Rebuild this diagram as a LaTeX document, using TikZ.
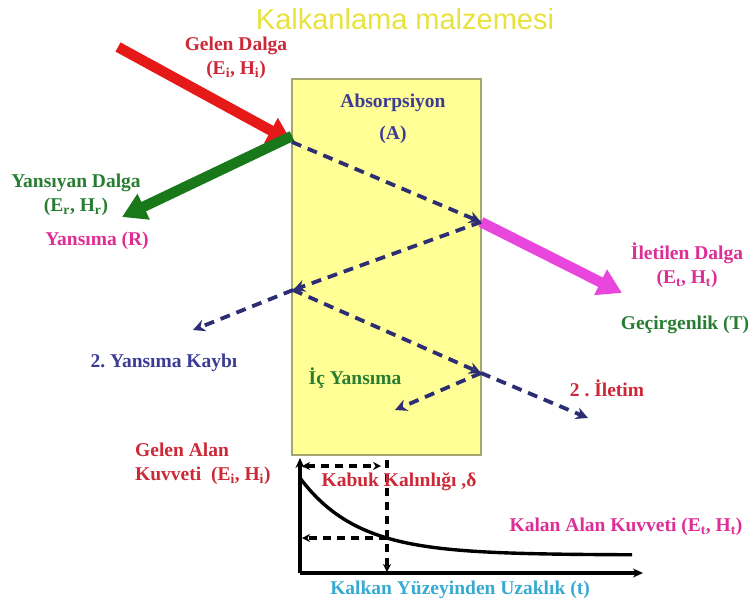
\documentclass[tikz,border=0pt]{standalone}
\usepackage{fontspec}
\setmainfont{Liberation Serif}
\newfontfamily\titlefont{Liberation Sans}
\usetikzlibrary{arrows.meta}
\definecolor{shieldfill}{RGB}{255,255,150}
\definecolor{shieldedge}{RGB}{165,165,110}
\definecolor{titleyellow}{RGB}{232,226,60}
\definecolor{incred}{RGB}{230,25,25}
\definecolor{refgreen}{RGB}{25,120,25}
\definecolor{trmagenta}{RGB}{232,70,220}
\definecolor{raynavy}{RGB}{45,45,115}
\definecolor{txtred}{RGB}{205,40,55}
\definecolor{txtgreen}{RGB}{40,125,50}
\definecolor{txtmagenta}{RGB}{222,45,150}
\definecolor{txtblue}{RGB}{60,60,150}
\definecolor{txtcyan}{RGB}{55,170,210}
\newcommand{\fieldpair}[1]{(E\textsubscript{#1}, H\textsubscript{#1})}

\begin{document}
\begin{tikzpicture}[x=1pt,y=-1pt,
  lbl/.style={font={\bfseries\fontsize{19.5}{24}\selectfont}, inner sep=0pt},
  ray/.style={draw=raynavy, line width=3.8pt, dash pattern=on 10pt off 7pt, -{Stealth[length=12pt,width=12pt]}},
  bigarrow/.style={line width=10.5pt, -{Triangle[length=24pt,width=27pt]}},
  graphline/.style={black, line width=3.4pt},
  skinline/.style={black, line width=3.4pt, dash pattern=on 8pt off 6pt}]
\frenchspacing
\useasboundingbox (0,0) rectangle (751,606);
\node[font={\titlefont\fontsize{29}{32}\selectfont}, text=titleyellow] (title) at (405,19) {Kalkanlama malzemesi};
\filldraw[fill=shieldfill, draw=shieldedge, line width=1.6pt] (292,79) rectangle (481,455);
\coordinate (redstart) at (118,47);
\coordinate (hit) at (292,142);
\coordinate (greenend) at (122,217);
\coordinate (exitone) at (481,222);
\coordinate (magentaend) at (622,293);
\coordinate (backone) at (293,290);
\coordinate (lossend) at (193,330);
\coordinate (exittwo) at (481,373);
\coordinate (transend) at (588,418);
\coordinate (innerend) at (395,410);
\draw[bigarrow, incred] (redstart) -- (hit);
\draw[bigarrow, refgreen] ([yshift=6pt]hit) -- (greenend);
\draw[bigarrow, trmagenta] (exitone) -- (magentaend);
\draw[ray] (hit) -- (exitone);
\draw[ray] (exitone) -- (backone);
\draw[ray] (backone) -- (lossend);
\draw[ray] (backone) -- (exittwo);
\draw[ray] (exittwo) -- (transend);
\draw[ray] (exittwo) -- (innerend);
\node[lbl, text=txtred, align=center] (incwave) at (236,58) {Gelen Dalga\\\fieldpair{i}};
\node[lbl, text=txtblue] (absorb) at (393,103) {Absorpsiyon};
\node[lbl, text=txtblue] (absorbsym) at (393,135) {(A)};
\node[lbl, text=txtgreen, align=center] (refwave) at (76,195) {Yansıyan Dalga\\\fieldpair{r}};
\node[lbl, text=txtmagenta] (reflect) at (97,241) {Yansıma (R)};
\node[lbl, text=txtmagenta, align=center] (trwave) at (687,265) {İletilen Dalga\\\fieldpair{t}};
\node[lbl, text=txtgreen] (transmit) at (685,325) {Geçirgenlik (T)};
\node[lbl, text=txtblue] (secloss) at (164,363) {2. Yansıma Kaybı};
\node[lbl, text=txtgreen] (innerref) at (355,378) {İç Yansıma};
\node[lbl, text=txtred] (sectrans) at (607,388) {2 . İletim};
\coordinate (origin) at (300,573);
\coordinate (ytop) at (300,458);
\coordinate (xend) at (643,573);
\coordinate (skintop) at (387,460);
\coordinate (skinbot) at (387,572);
\coordinate (depthleft) at (302,466);
\coordinate (depthright) at (381,466);
\coordinate (decaycross) at (387,538);
\coordinate (decayleft) at (302,538);
\draw[graphline, -{Stealth[length=10pt,width=9pt]}] (origin) -- (ytop);
\draw[graphline, -{Stealth[length=10pt,width=9pt]}] (origin) -- (xend);
\draw[graphline] plot[domain=300:632, samples=80, smooth] (\x, {555-77*exp(-(\x-300)/57.6)});
\draw[skinline, -{Stealth[length=8pt,width=8pt]}] (skintop) -- (skinbot);
\draw[skinline, {Stealth[length=8pt,width=8pt]}-{Stealth[length=8pt,width=8pt]}] (depthleft) -- (depthright);
\draw[skinline, -{Stealth[length=8pt,width=8pt]}] (decaycross) -- (decayleft);
\node[lbl, text=txtred, align=left, anchor=west] (incfield) at (135,464) {Gelen Alan\\Kuvveti\ \ \fieldpair{i}};
\node[lbl, text=txtred] (skindepth) at (399,482) {Kabuk Kalınlığı ,δ};
\node[lbl, text=txtmagenta] (remfield) at (626,527) {Kalan Alan Kuvveti \fieldpair{t}};
\node[lbl, text=txtcyan] (distance) at (460,590) {Kalkan Yüzeyinden Uzaklık (t)};
\end{tikzpicture}
\end{document}
